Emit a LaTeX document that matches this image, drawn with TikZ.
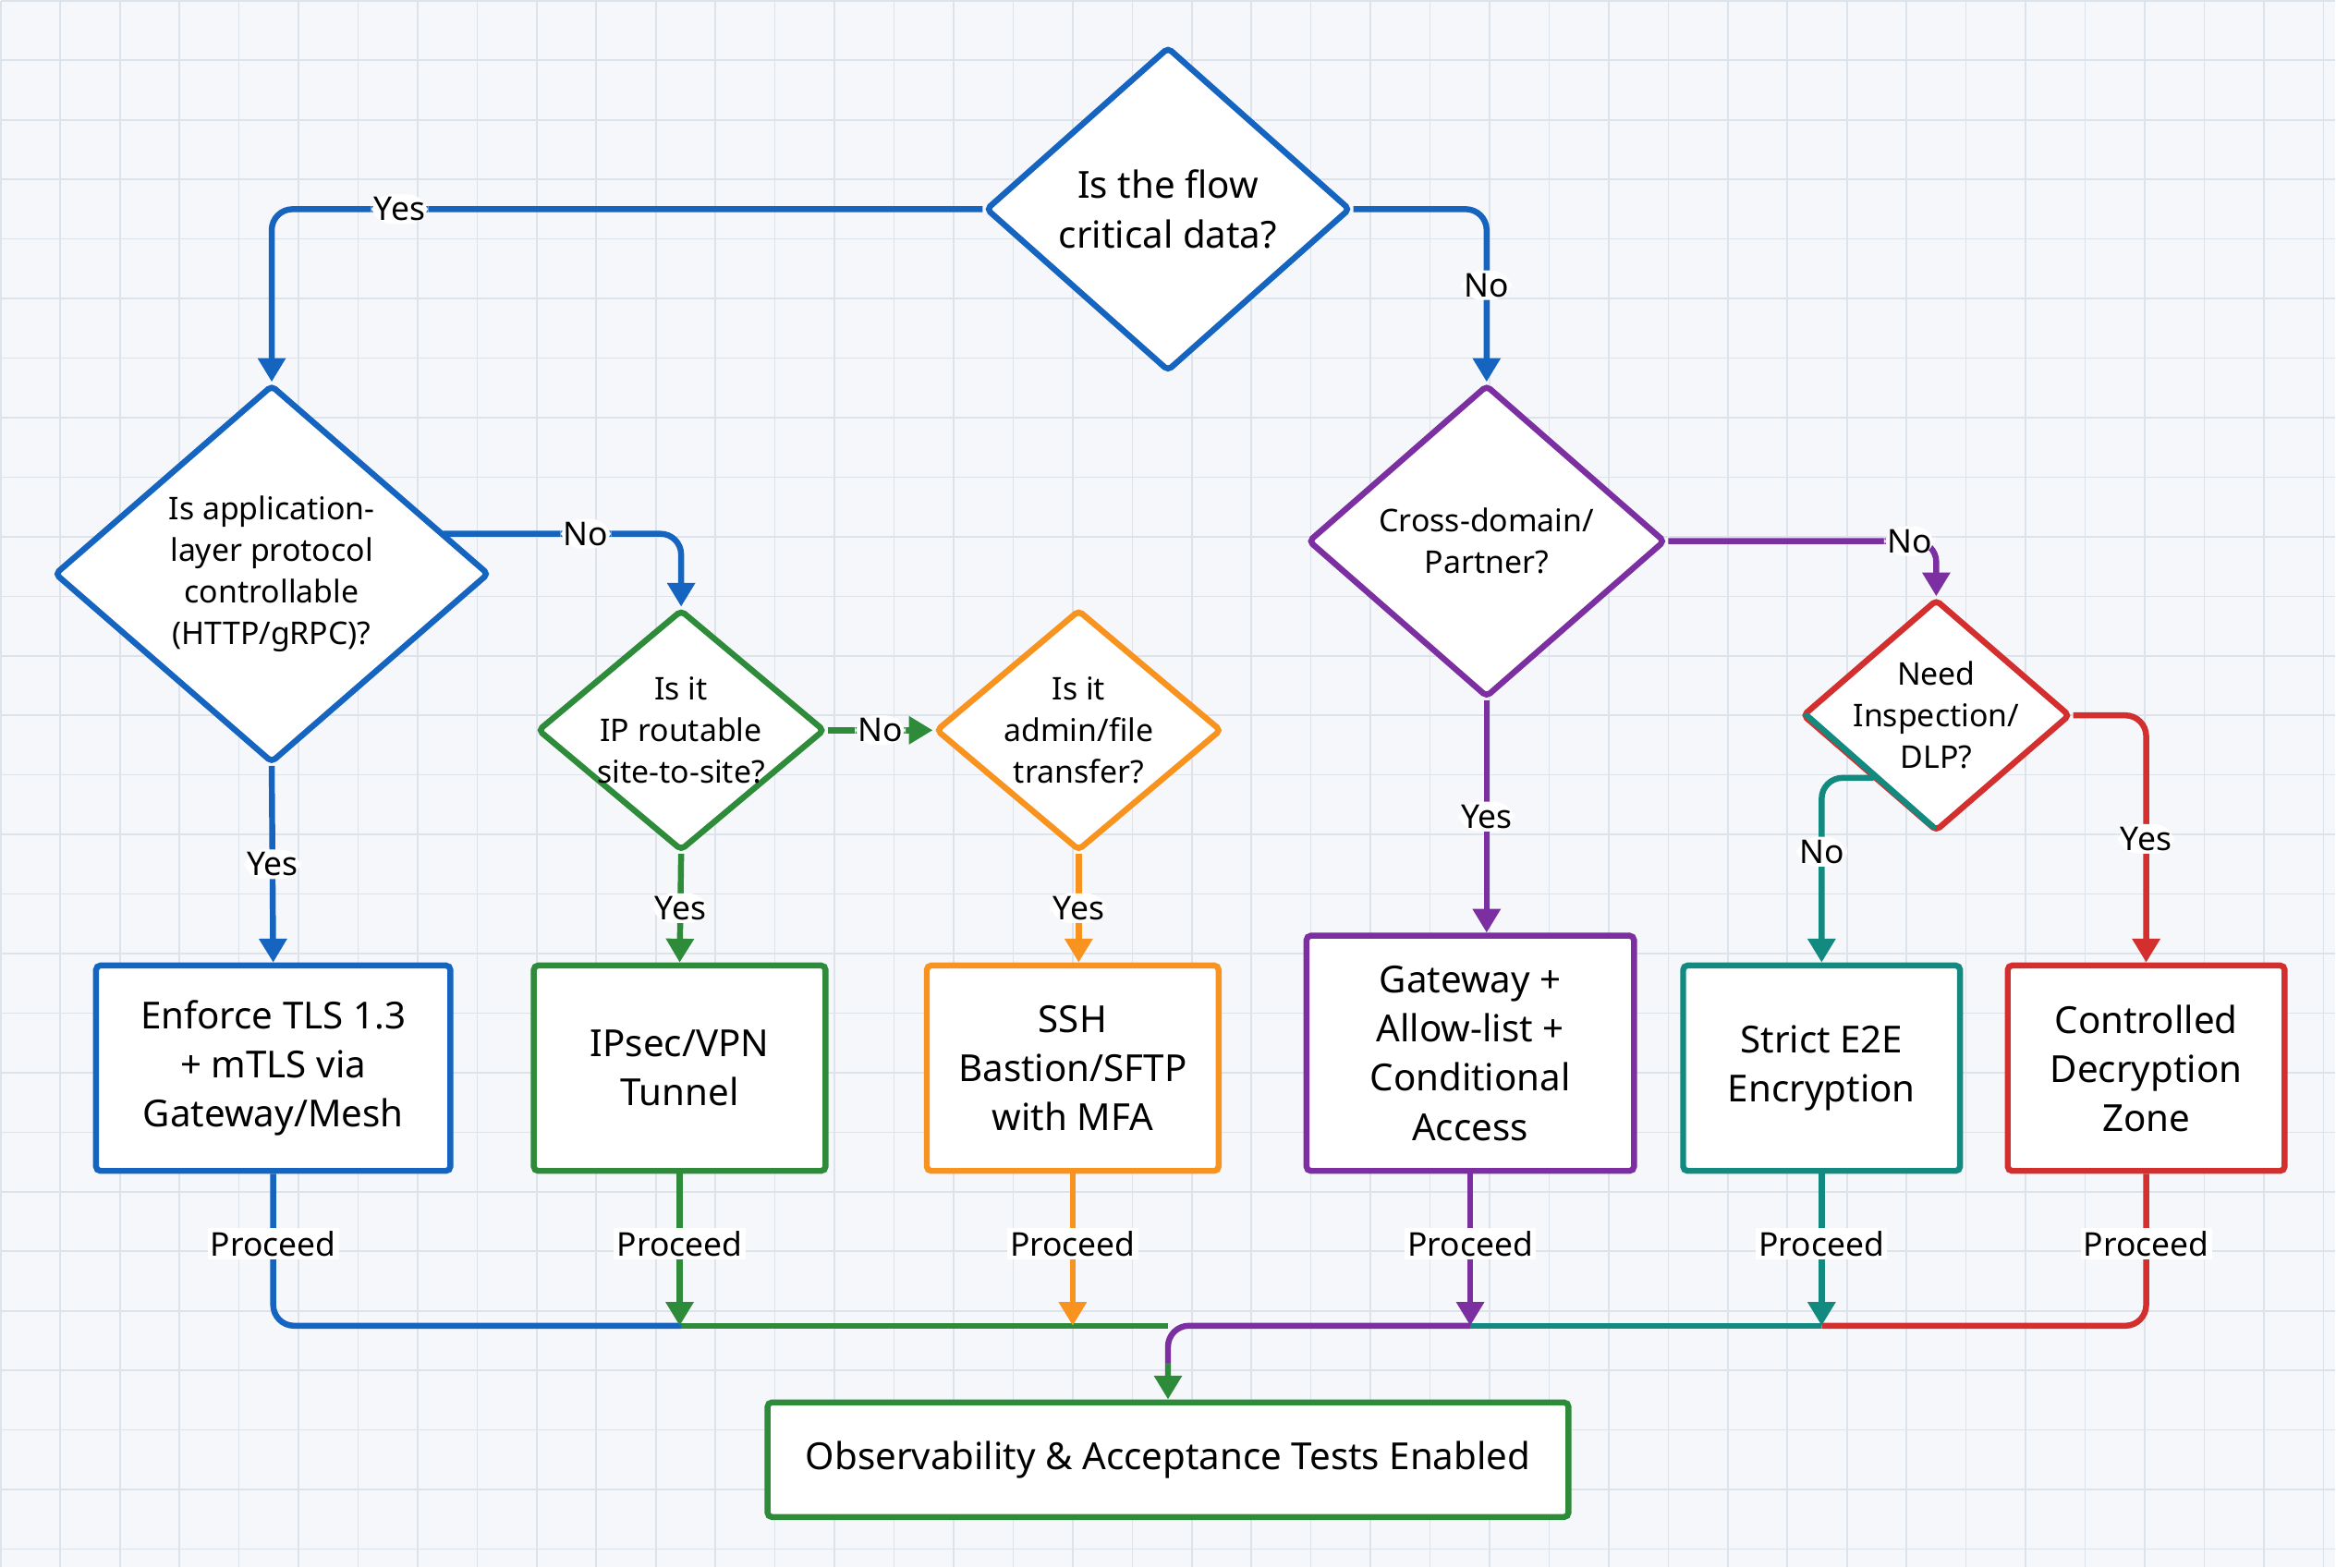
\documentclass[tikz,border=0pt]{standalone}
\usepackage{fontspec}
\setmainfont{Noto Sans}
\usetikzlibrary{shapes.geometric,arrows.meta}
\definecolor{cblue}{HTML}{1565C0}
\definecolor{cgreen}{HTML}{2E8B3A}
\definecolor{corange}{HTML}{F7931E}
\definecolor{cpurple}{HTML}{7B2FA0}
\definecolor{cteal}{HTML}{138A80}
\definecolor{cred}{HTML}{D32F2F}
\definecolor{gridc}{HTML}{DDE3EA}
\definecolor{bgc}{HTML}{F5F7FA}
\tikzset{
 dia/.style={diamond,draw=#1,fill=white,line width=4pt,rounded corners=3pt,inner sep=0pt},
 boxn/.style={rectangle,draw=#1,fill=white,text=black,line width=4pt,rounded corners=3pt,align=center,font=\fontsize{25}{33}\selectfont},
 dtext/.style={align=center,text=black,font=\fontsize{21}{28}\selectfont},
 conn/.style={draw=#1,line width=4pt,rounded corners=14pt,-{Triangle[length=16pt,width=18pt]}},
 plain/.style={draw=#1,line width=4pt,rounded corners=14pt},
 lbl/.style={fill=white,text=black,inner sep=2pt,font=\fontsize{22}{26}\selectfont},
}
\begin{document}
\begin{tikzpicture}[x=1pt,y=-1pt]
\fill[bgc] (0,0) rectangle (1568,1052);
\foreach \i in {0,40,...,1560} \draw[gridc,line width=1pt] (\i,0) -- (\i,1052);
\foreach \j in {0,40,...,1040} \draw[gridc,line width=1pt] (0,\j) -- (1568,\j);
\useasboundingbox (0,0) rectangle (1568,1052);
% diamonds
\node[dia=cblue,minimum width=245,minimum height=218] (d1) at (784,140) {};
\node[dtext,font=\fontsize{25}{33}\selectfont] at (d1) {Is the flow\\critical data?};
\node[dia=cblue,minimum width=292,minimum height=254] (d2) at (182,385) {};
\node[dtext] at (d2) {Is application-\\layer protocol\\controllable\\(HTTP/gRPC)?};
\node[dia=cgreen,minimum width=193,minimum height=162] (d3) at (457,490) {};
\node[dtext] at (d3) {Is it\\IP routable\\site-to-site?};
\node[dia=corange,minimum width=192,minimum height=162] (d4) at (724,490) {};
\node[dtext] at (d4) {Is it\\admin/file\\transfer?};
\node[dia=cpurple,minimum width=240,minimum height=210] (d5) at (998,363) {};
\node[dtext] at (d5) {Cross-domain/\\Partner?};
\node[dia=cred,minimum width=180,minimum height=156] (d6) at (1300,480) {};
\draw[cteal,line width=4pt,line cap=round] (1213,480) -- (1298,555);
\node[dtext] at (d6) {Need\\Inspection/\\DLP?};
% boxes
\node[boxn=cblue,minimum width=238,minimum height=138] (b1) at (183,717) {Enforce TLS 1.3\\+ mTLS via\\Gateway/Mesh};
\node[boxn=cgreen,minimum width=196,minimum height=138] (b2) at (456,717) {IPsec/VPN\\Tunnel};
\node[boxn=corange,minimum width=196,minimum height=138] (b3) at (720,717) {SSH\\Bastion/SFTP\\with MFA};
\node[boxn=cpurple,minimum width=220,minimum height=158] (b4) at (987,707) {Gateway +\\Allow-list +\\Conditional\\Access};
\node[boxn=cteal,minimum width=186,minimum height=138] (b5) at (1223,717) {Strict E2E\\Encryption};
\node[boxn=cred,minimum width=186,minimum height=138] (b6) at (1441,717) {Controlled\\Decryption\\Zone};
\node[boxn=cgreen,minimum width=538,minimum height=77] (fin) at (784,980) {Observability \& Acceptance Tests Enabled};
% coordinates
\coordinate (m) at (784,890);
\coordinate (d2n) at (297,358);
\coordinate (d6n) at (1258,522);
% decisions
\draw[conn=cblue] (d1.west) -| (d2.north) node[lbl,pos=0.41]{Yes};
\draw[conn=cblue] (d1.east) -| (d5.north) node[lbl,pos=0.72]{No};
\draw[conn=cblue] (d2n) -| (d3.north) node[lbl,pos=0.3]{No};
\draw[conn=cblue] (d2.south) -- (b1.north) node[lbl,midway]{Yes};
\draw[conn=cgreen] (d3.east) -- (d4.west) node[lbl,midway]{No};
\draw[conn=cgreen] (d3.south) -- (b2.north) node[lbl,midway]{Yes};
\draw[conn=corange] (d4.south) -- (b3.north -| d4.south) node[lbl,midway]{Yes};
\draw[conn=cpurple] (d5.east) -| (d6.north) node[lbl,pos=0.45]{No};
\draw[conn=cpurple] (d5.south) -- (d5.south |- b4.north) node[lbl,midway]{Yes};
\draw[conn=cred] (d6.east) -| (b6.north) node[lbl,pos=0.75]{Yes};
\draw[conn=cteal] (d6n) -| (b5.north) node[lbl,pos=0.7]{No};
% proceed
\draw[plain=cgreen] (457,890) -- (784,890);
\draw[plain=cblue] (b1.south) |- (457,890);
\draw[plain=cpurple] (987,890) -- (784,890) -- (784,925);
\draw[plain=cteal] (987,890) -- (1223,890);
\draw[plain=cred] (b6.south) |- (1223,890);
\draw[conn=cgreen] (b2.south) -- (456,890);
\draw[conn=corange] (b3.south) -- (720,890);
\draw[conn=cpurple] (b4.south) -- (987,890);
\draw[conn=cteal] (b5.south) -- (1223,890);
\draw[conn=cgreen] (784,915) -- (fin.north);
\foreach \x in {183,456,720,987,1223,1441} \node[lbl] at (\x,835) {Proceed};
\end{tikzpicture}
\end{document}
